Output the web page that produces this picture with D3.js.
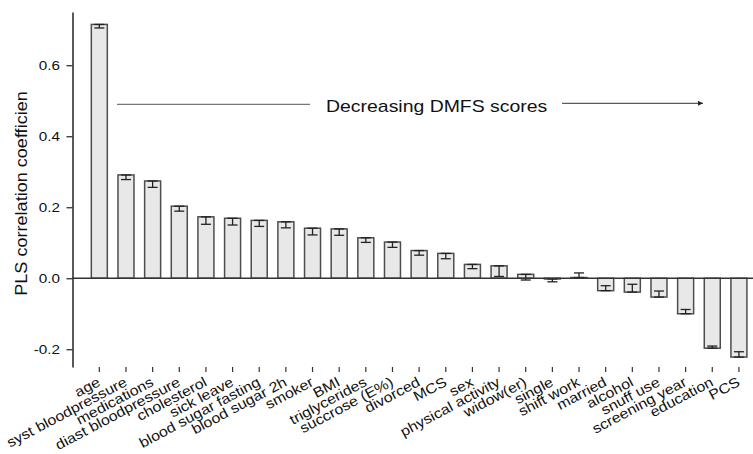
<!DOCTYPE html>
<html>
<head>
<meta charset="utf-8">
<script src="https://cdn.jsdelivr.net/npm/d3@7"></script>
<style>
  body { margin: 0; background: #fff; }
  svg text { font-family: "Liberation Sans", Arial, sans-serif; fill: #111; }
</style>
</head>
<body>
<div id="chart"></div>
<script>
// chart data
var categories = ["age", "syst bloodpressure", "medications", "diast bloodpressure", "cholesterol",
  "sick leave", "blood sugar fasting", "blood sugar 2h", "smoker", "BMI", "triglycerides",
  "succrose (E%)", "divorced", "MCS", "sex", "physical activity", "widow(er)", "single",
  "shift work", "married", "alcohol", "snuff use", "screening year", "education", "PCS"];
var values = [0.715, 0.291, 0.274, 0.203, 0.173, 0.169, 0.163, 0.159, 0.141, 0.139, 0.114,
  0.102, 0.078, 0.070, 0.039, 0.035, 0.011, -0.002, 0.002, -0.035, -0.039, -0.053, -0.100,
  -0.197, -0.222];
// other end of each error bar (the first end sits on the bar value)
var errorEnds = [0.705, 0.278, 0.256, 0.189, 0.152, 0.150, 0.146, 0.142, 0.122, 0.121, 0.101,
  0.087, 0.065, 0.055, 0.027, 0.005, -0.005, -0.010, 0.015, -0.021, -0.017, -0.036, -0.088,
  -0.191, -0.207];
var yTicks = [-0.2, 0.0, 0.2, 0.4, 0.6];
var yLabel = "PLS correlation coefficien";
var note = "Decreasing DMFS scores";

var svgWidth = 753;
var svgHeight = 454;
var stretch = 1.13; // text in the picture is a bit wider than Arial

var svg = d3.select("#chart")
  .append("svg")
  .attr("width", svgWidth)
  .attr("height", svgHeight);

var axisX = 72.5;

var yScale = d3.scaleLinear()
  .domain([-0.25, 0.75])
  .range([367, 12]);

var xScale = d3.scaleBand()
  .domain(categories)
  .range([86, 752.25])
  .paddingInner(0.4)
  .paddingOuter(0.2);

var rows = categories.map(function(c, i) {
  return { name: c, value: values[i], errEnd: errorEnds[i] };
});

// bars
svg.append("g").selectAll("rect")
  .data(rows)
  .enter()
  .append("rect")
  .attr("x", d => xScale(d.name))
  .attr("width", xScale.bandwidth())
  .attr("y", d => yScale(Math.max(0, d.value)))
  .attr("height", d => Math.abs(yScale(d.value) - yScale(0)))
  .attr("fill", "#e8e8e8")
  .attr("stroke", "#4d4d4d")
  .attr("stroke-width", 1.5);

// error bars
var err = svg.append("g")
  .attr("stroke", "#222")
  .attr("stroke-width", 1.3)
  .selectAll("g")
  .data(rows)
  .enter()
  .append("g");

err.append("line")
  .attr("x1", d => xScale(d.name) + xScale.bandwidth() / 2)
  .attr("x2", d => xScale(d.name) + xScale.bandwidth() / 2)
  .attr("y1", d => yScale(d.value))
  .attr("y2", d => yScale(d.errEnd));

[function(d) { return d.value; }, function(d) { return d.errEnd; }].forEach(function(acc) {
  err.append("line")
    .attr("x1", d => xScale(d.name) + xScale.bandwidth() / 2 - 5)
    .attr("x2", d => xScale(d.name) + xScale.bandwidth() / 2 + 5)
    .attr("y1", d => yScale(acc(d)))
    .attr("y2", d => yScale(acc(d)));
});

// zero line
svg.append("line")
  .attr("x1", axisX)
  .attr("x2", svgWidth)
  .attr("y1", yScale(0))
  .attr("y2", yScale(0))
  .attr("stroke", "#333")
  .attr("stroke-width", 1.5);

// y axis
var leftAxis = d3.axisLeft(yScale)
  .tickValues(yTicks)
  .tickSize(6)
  .tickSizeOuter(0)
  .tickFormat(d => d3.format(".1f")(d).replace("\u2212", "-"));

var yAxisG = svg.append("g")
  .attr("transform", `translate(${axisX}, 0)`)
  .call(leftAxis);

yAxisG.select(".domain").attr("stroke", "#222").attr("stroke-width", 1.5);
yAxisG.selectAll(".tick line").attr("stroke", "#222").attr("stroke-width", 1.2);
yAxisG.selectAll(".tick text")
  .attr("x", -12.5 / stretch)
  .attr("transform", `scale(${stretch},1)`)
  .attr("font-size", "13.5px")
  .attr("font-family", "Liberation Sans, Arial, sans-serif")
  .attr("fill", "#111");

// x axis: ticks only, labels rotated
var bottomAxis = d3.axisBottom(xScale).tickSize(5).tickSizeOuter(0).tickFormat("");
var xAxisG = svg.append("g")
  .attr("transform", "translate(0, 367)")
  .call(bottomAxis);
xAxisG.select(".domain").remove();
xAxisG.selectAll(".tick line").attr("stroke", "#333").attr("stroke-width", 1.2);

svg.append("g").selectAll("text")
  .data(categories)
  .enter()
  .append("text")
  .attr("transform", d => `translate(${xScale(d) + xScale.bandwidth() / 2 + 2}, 385) rotate(-28) scale(${stretch},1)`)
  .attr("text-anchor", "end")
  .attr("font-size", "14.1px")
  .text(d => d);

// y axis title
svg.append("text")
  .attr("transform", `translate(27, 193.5) rotate(-90) scale(${stretch},1)`)
  .attr("text-anchor", "middle")
  .attr("font-size", "16px")
  .text(yLabel);

// annotation with arrow
var noteY = yScale(0.49);
svg.append("defs").append("marker")
  .attr("id", "arrow")
  .attr("viewBox", "0 0 10 10")
  .attr("refX", 10)
  .attr("refY", 5)
  .attr("markerWidth", 5)
  .attr("markerHeight", 5)
  .attr("markerUnits", "userSpaceOnUse")
  .attr("orient", "auto")
  .append("path")
  .attr("d", "M0,0 L10,5 L0,10 z")
  .attr("fill", "#222");

svg.append("line")
  .attr("x1", 117).attr("x2", 310)
  .attr("y1", noteY).attr("y2", noteY)
  .attr("stroke", "#555")
  .attr("stroke-width", 1);

svg.append("line")
  .attr("x1", 562).attr("x2", 703)
  .attr("y1", noteY - 1).attr("y2", noteY - 1)
  .attr("stroke", "#333")
  .attr("stroke-width", 1)
  .attr("marker-end", "url(#arrow)");

svg.append("text")
  .attr("transform", `translate(326, ${noteY + 7.5}) scale(${stretch},1)`)
  .attr("font-size", "17.2px")
  .text(note);
</script>
</body>
</html>
